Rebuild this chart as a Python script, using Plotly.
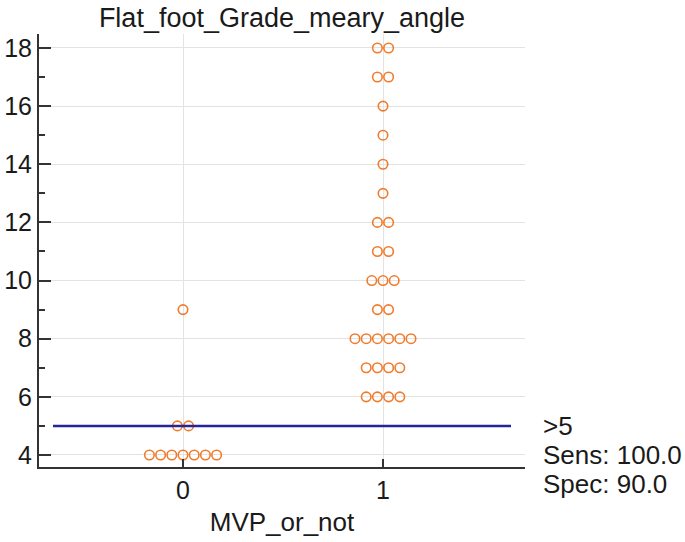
import plotly.graph_objects as go
from collections import Counter

# Data
group0 = [4]*7 + [5]*2 + [9]
group1 = ([18]*2 + [17]*2 + [16, 15, 14, 13] + [12]*2 + [11]*2 + [10]*3 +
          [9]*2 + [8]*6 + [7]*4 + [6]*4)
categories = [0, 1]
cutoff = 5
cut_labels = [">5", "Sens: 100.0", "Spec: 90.0"]
title_text = "Flat_foot_Grade_meary_angle"
x_title = "MVP_or_not"
y_ticks = [4, 6, 8, 10, 12, 14, 16, 18]

step = 0.056
FONT = "Liberation Sans, Arial"
FS = 25
TXT = "#1a1a1a"

ML, MR, MT, MB = 39, 160, 34, 75
W, H = 685, 542
y0, y1 = 3.587, 18.48


def swarm(cat, vals):
    xs, ys = [], []
    cnt = Counter(vals)
    for v in sorted(cnt):
        n = cnt[v]
        for i in range(n):
            xs.append(cat + (i - (n - 1) / 2) * step)
            ys.append(v)
    return xs, ys


fig = go.Figure()
for cat, vals in zip(categories, [group0, group1]):
    xs, ys = swarm(cat, vals)
    fig.add_trace(go.Scatter(
        x=xs, y=ys, mode="markers",
        marker=dict(symbol="circle-open", size=9.5, color="#F07B2B",
                    line=dict(width=1.6, color="#F07B2B")),
        showlegend=False, hoverinfo="y", cliponaxis=False))

fig.add_shape(type="line", xref="x", yref="y", x0=-0.65, x1=1.64,
              y0=cutoff, y1=cutoff, line=dict(color="#25259A", width=2.5))

cut_paper = (cutoff - y0) / (y1 - y0)
for i, txt in enumerate(cut_labels):
    fig.add_annotation(x=1.0, xref="paper", xshift=16,
                       y=cut_paper, yref="paper", yshift=-29 * i,
                       text=txt, showarrow=False, xanchor="left",
                       yanchor="middle",
                       font=dict(size=26, color=TXT, family=FONT))

fig.update_layout(
    width=W, height=H,
    margin=dict(l=ML, r=MR, t=MT, b=MB),
    paper_bgcolor="white", plot_bgcolor="white",
    title=dict(text=title_text, x=(ML + (W - ML - MR) / 2) / W,
               xanchor="center", y=1 - 18 / H, yanchor="middle",
               font=dict(size=27, color=TXT, family=FONT)),
    font=dict(family=FONT, size=FS, color=TXT),
)
fig.update_xaxes(range=[-0.72, 1.71], tickvals=categories,
                 ticktext=[str(c) for c in categories],
                 showgrid=True, gridcolor="#e3e3e3", gridwidth=1,
                 zeroline=False, showline=True, linecolor="#333333",
                 linewidth=2, ticks="inside", ticklen=8, tickwidth=2,
                 tickcolor="#333333", automargin=False,
                 tickfont=dict(size=FS),
                 title=dict(text=x_title, font=dict(size=26), standoff=10))
fig.update_yaxes(range=[y0, y1], tickvals=y_ticks,
                 showgrid=True, gridcolor="#e3e3e3", gridwidth=1,
                 zeroline=False, showline=True, linecolor="#333333",
                 linewidth=2, ticks="inside", ticklen=12, tickwidth=2,
                 tickcolor="#333333", automargin=False,
                 tickfont=dict(size=FS),
                 minor=dict(dtick=1, tick0=0, ticks="inside", ticklen=6,
                            tickwidth=1.5, tickcolor="#333333",
                            showgrid=False))

fig.write_html("out.html",
               config={"displayModeBar": False},
               post_script="document.body.style.margin='0';"
                           "document.body.style.overflow='hidden';")
